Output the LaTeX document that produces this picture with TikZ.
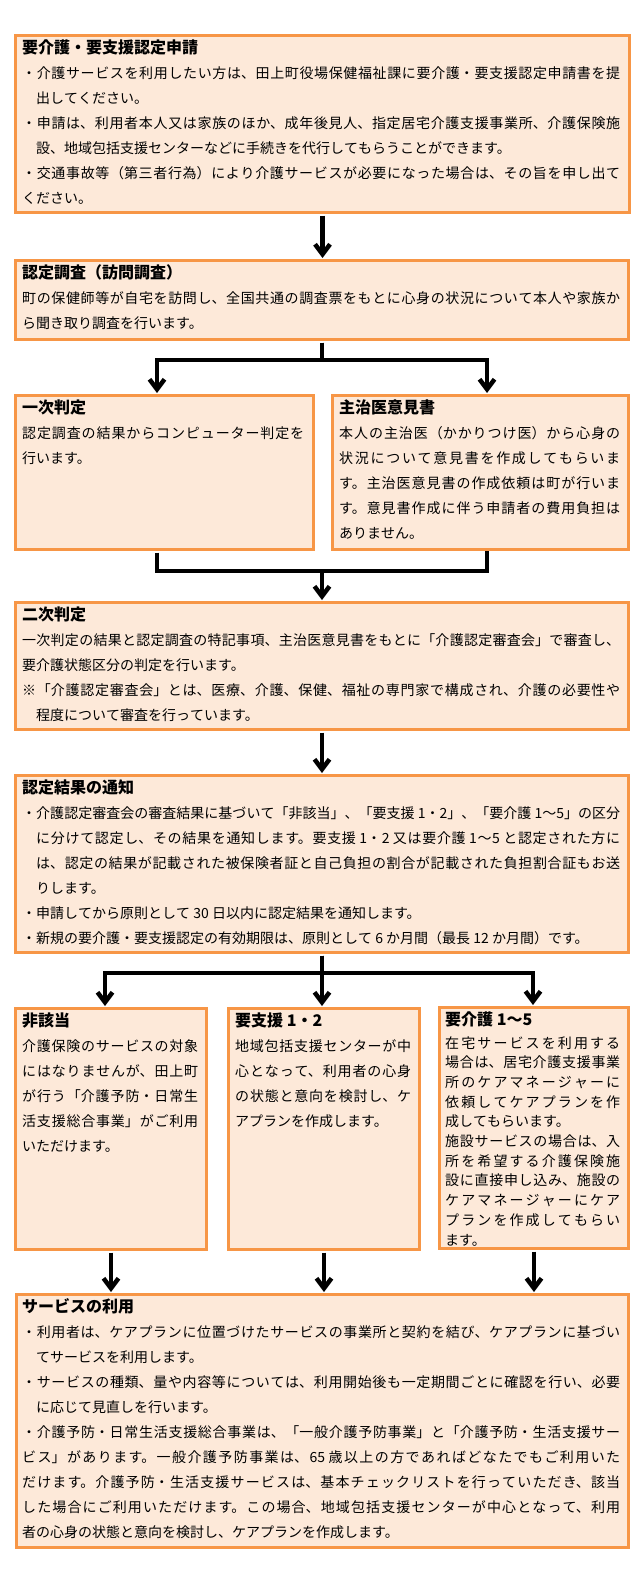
\documentclass[tikz,border=0pt]{standalone}
\usepackage{fontspec}
\usetikzlibrary{arrows.meta}
\newfontfamily\jpfont{Noto Sans CJK JP}
\XeTeXlinebreaklocale "ja"
\XeTeXlinebreakskip=0pt plus 5pt minus 0.3pt
\definecolor{boxline}{HTML}{F79646}
\definecolor{boxfill}{HTML}{FDE9D9}
\newcommand\bodytext{\jpfont\fontsize{14pt}{25pt}\selectfont\parindent=0pt\lineskiplimit=-30pt\relax}
\newcommand\ttl[1]{{\fontsize{16pt}{25pt}\selectfont\bfseries\strut#1}\par}
\newcommand\hanging{\par\noindent\hangindent=14pt\hangafter=1\relax}
\newcommand\itm{\hanging ・}

\begin{document}
\begin{tikzpicture}[x=1pt,y=-1pt,
	box/.style={draw=boxline,fill=boxfill,line width=3pt,anchor=north west,inner sep=0pt},
	txt/.style={anchor=north west,inner sep=0pt,align=justify,font=\bodytext},
	link/.style={line width=4.5pt,shorten <=1.5pt},
	arr/.style={link,shorten >=1pt,-{Straight Barb[length=10pt,width=15pt]}}]
	\useasboundingbox (0,0) rectangle (643,1576);
	
	\node[box,minimum width=614pt,minimum height=177pt] (apply) at (14,34) {};
	\node[box,minimum width=613pt,minimum height=79pt] (survey) at (14,259) {};
	\node[box,minimum width=298pt,minimum height=154pt] (first) at (14,394) {};
	\node[box,minimum width=296pt,minimum height=154pt] (doctor) at (331,394) {};
	\node[box,minimum width=613pt,minimum height=127pt] (second) at (14,601) {};
	\node[box,minimum width=613pt,minimum height=177pt] (notice) at (14,774) {};
	\node[box,minimum width=191pt,minimum height=241pt] (none) at (14,1007) {};
	\node[box,minimum width=191pt,minimum height=241pt] (support) at (227,1007) {};
	\node[box,minimum width=189pt,minimum height=241pt] (care) at (438,1006) {};
	\node[box,minimum width=612pt,minimum height=253pt] (use) at (15,1293) {};
	
	\node[txt,text width=598pt] (apply-t) at ([shift={(8pt,-2pt)}]apply.north west) {\ttl{要介護・要支援認定申請}%
		\itm 介護サービスを利用したい方は、田上町役場保健福祉課に要介護・要支援認定申請書を提\linebreak 出してください。%
		\itm 申請は、利用者本人又は家族のほか、成年後見人、指定居宅介護支援事業所、介護保険施\linebreak 設、地域包括支援センターなどに手続きを代行してもらうことができます。%
		\itm 交通事故等（第三者行為）により介護サービスが必要になった場合は、その旨を申し出て\linebreak ください。};
	\node[txt,text width=598pt] (survey-t) at ([shift={(8pt,-2pt)}]survey.north west) {\ttl{認定調査（訪問調査）}%
		町の保健師等が自宅を訪問し、全国共通の調査票をもとに心身の状況について本人や家族か\linebreak ら聞き取り調査を行います。};
	\node[txt,text width=282pt] (first-t) at ([shift={(8pt,-2pt)}]first.north west) {\ttl{一次判定}%
		認定調査の結果からコンピューター判定を\linebreak 行います。};
	\node[txt,text width=281pt] (doctor-t) at ([shift={(8pt,-2pt)}]doctor.north west) {\ttl{主治医意見書}%
		本人の主治医（かかりつけ医）から心身の\linebreak 状況について意見書を作成してもらいま\linebreak す。主治医意見書の作成依頼は町が行いま\linebreak す。意見書作成に伴う申請者の費用負担は\linebreak ありません。};
	\node[txt,text width=598pt] (second-t) at ([shift={(8pt,-2pt)}]second.north west) {\ttl{二次判定}%
		\noindent 一次判定の結果と認定調査の特記事項、主治医意見書をもとに「介護認定審査会」で審査し、\linebreak 要介護状態区分の判定を行います。%
		\hanging ※「介護認定審査会」とは、医療、介護、保健、福祉の専門家で構成され、介護の必要性や\linebreak 程度について審査を行っています。\par};
	\node[txt,text width=598pt] (notice-t) at ([shift={(8pt,-2pt)}]notice.north west) {\ttl{認定結果の通知}%
		\itm 介護認定審査会の審査結果に基づいて「非該当」、「要支援 1・2」、「要介護 1～5」の区分\linebreak に分けて認定し、その結果を通知します。要支援 1・2 又は要介護 1～5 と認定された方に\linebreak は、認定の結果が記載された被保険者証と自己負担の割合が記載された負担割合証もお送\linebreak りします。%
		\itm 申請してから原則として 30 日以内に認定結果を通知します。%
		\itm 新規の要介護・要支援認定の有効期限は、原則として 6 か月間（最長 12 か月間）です。};
	\node[txt,text width=176pt] (none-t) at ([shift={(8pt,-2pt)}]none.north west) {\ttl{非該当}%
		介護保険のサービスの対象\linebreak にはなりませんが、田上町\linebreak が行う「介護予防・日常生\linebreak 活支援総合事業」がご利用\linebreak いただけます。};
	\node[txt,text width=176pt] (support-t) at ([shift={(8pt,-2pt)}]support.north west) {\ttl{要支援 1・2}%
		地域包括支援センターが中\linebreak 心となって、利用者の心身\linebreak の状態と意向を検討し、ケ\linebreak アプランを作成します。};
	\node[txt,text width=175pt] (care-t) at ([shift={(7pt,-2pt)}]care.north west) {\ttl{要介護 1～5}%
		{\fontsize{14pt}{19.7pt}\selectfont\vspace{2.6pt}%
		在宅サービスを利用する\linebreak 場合は、居宅介護支援事業\linebreak 所のケアマネージャーに\linebreak 依頼してケアプランを作\linebreak 成してもらいます。\par
		施設サービスの場合は、入\linebreak 所を希望する介護保険施\linebreak 設に直接申し込み、施設の\linebreak ケアマネージャーにケア\linebreak プランを作成してもらい\linebreak ます。\par}};
	\node[txt,text width=598pt] (use-t) at ([shift={(7pt,-2pt)}]use.north west) {\ttl{サービスの利用}%
		\itm 利用者は、ケアプランに位置づけたサービスの事業所と契約を結び、ケアプランに基づい\linebreak てサービスを利用します。%
		\itm サービスの種類、量や内容等については、利用開始後も一定期間ごとに確認を行い、必要\linebreak に応じて見直しを行います。%
		\itm 介護予防・日常生活支援総合事業は、「一般介護予防事業」と「介護予防・生活支援サー\linebreak ビス」があります。一般介護予防事業は、65 歳以上の方であればどなたでもご利用いた\linebreak だけます。介護予防・生活支援サービスは、基本チェックリストを行っていただき、該当\linebreak した場合にご利用いただけます。この場合、地域包括支援センターが中心となって、利用\linebreak 者の心身の状態と意向を検討し、ケアプランを作成します。};
	
	\coordinate (s1l) at (157,360);
	\coordinate (s1r) at (487,360);
	\coordinate (m1l) at (157,571);
	\coordinate (m1r) at (487,571);
	\coordinate (s2l) at (105,973);
	\coordinate (s2r) at (533,973);
	
	\draw[arr] (apply.south) -- (apply.south |- survey.north);
	\draw[arr] (survey.south) |- (s1l) -- (s1l |- first.north);
	\draw[arr] (survey.south) |- (s1r) -- (s1r |- doctor.north);
	\draw[link] (m1l |- first.south) -- (m1l) -- (m1r) -- (m1r |- doctor.south);
	\draw[arr] (second.north |- m1l) -- (second.north);
	\draw[arr] (second.south) -- (second.south |- notice.north);
	\draw[arr] (notice.south) |- (s2l) -- (s2l |- none.north);
	\draw[arr] (notice.south) |- (s2r) -- (s2r |- care.north);
	\draw[arr] (notice.south) -- (notice.south |- support.north);
	\foreach \bx in {none,support,care}
	\draw[arr] (\bx.south) -- (\bx.south |- use.north);
\end{tikzpicture}
\end{document}
